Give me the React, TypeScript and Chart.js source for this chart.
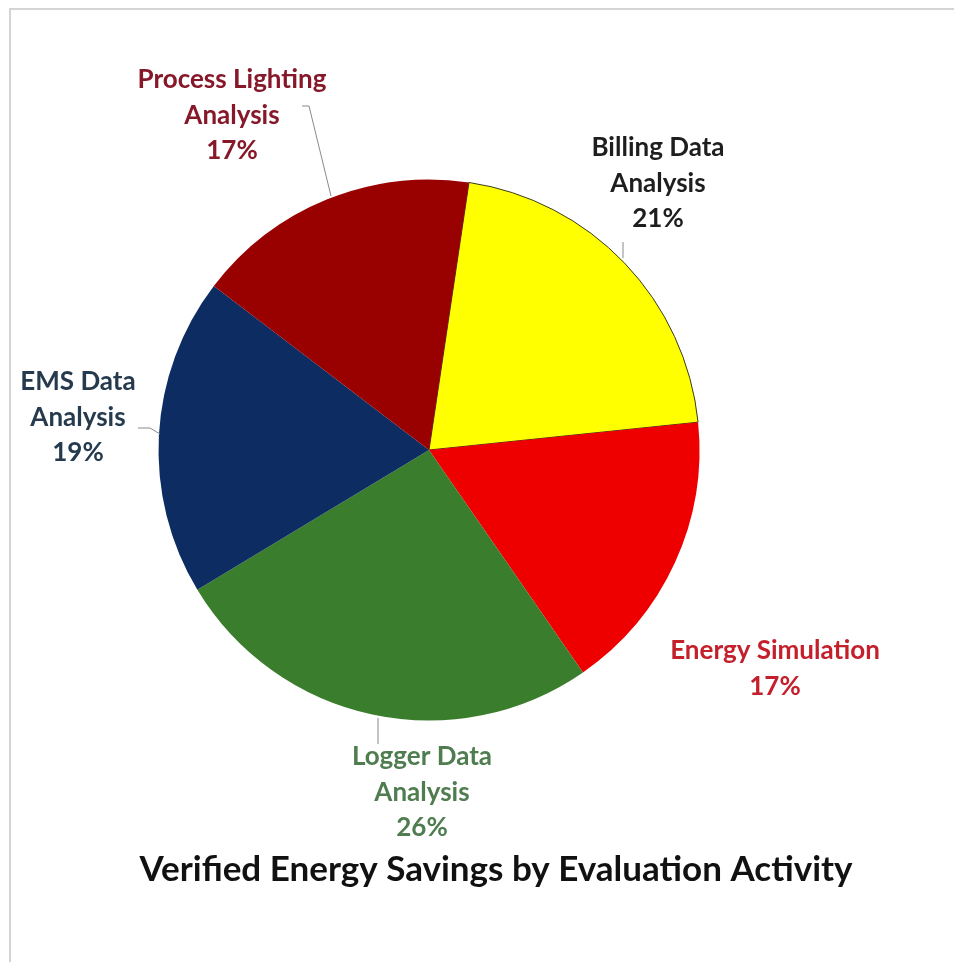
import React, { useEffect, useRef } from "react";
import { Chart, registerables } from "chart.js";

Chart.register(...registerables);

const categories = [
  "Billing Data Analysis",
  "Energy Simulation",
  "Logger Data Analysis",
  "EMS Data Analysis",
  "Process Lighting Analysis",
];
const values = [21, 17, 26, 19, 17];
const sliceColors = ["#FFFF00", "#EE0000", "#3A7D2C", "#0C2C62", "#990000"];
const labelLines = [
  ["Billing Data", "Analysis", "21%"],
  ["Energy Simulation", "17%"],
  ["Logger Data", "Analysis", "26%"],
  ["EMS Data", "Analysis", "19%"],
  ["Process Lighting", "Analysis", "17%"],
];
const labelColors = ["#1E1E1E", "#C4202C", "#4F7D4F", "#263A4E", "#86182A"];
const titleText = "Verified Energy Savings by Evaluation Activity";

const FONT = "Lato, 'Open Sans', sans-serif";

export default function App() {
  const ref = useRef<HTMLCanvasElement | null>(null);
  useEffect(() => {
    document.body.style.margin = "0";
    const canvas = ref.current;
    if (!canvas) return;
    const labelPos = [
      { x: 658, y: 148 },
      { x: 775, y: 651 },
      { x: 422, y: 757 },
      { x: 78, y: 382 },
      { x: 232, y: 80 },
    ];
    const leaders: number[][][] = [
      [[623, 242], [623, 258]],
      [],
      [[378, 718], [378, 744]],
      [[138, 428], [150, 428], [160, 434]],
      [[302, 106], [309, 106], [331, 196]],
    ];
    const overlay = {
      id: "overlay",
      beforeDraw(chart: any) {
        const ctx = chart.ctx;
        ctx.save();
        ctx.fillStyle = "#ffffff";
        ctx.fillRect(0, 0, chart.width, chart.height);
        ctx.strokeStyle = "#d4d4d4";
        ctx.lineWidth = 2;
        ctx.beginPath();
        ctx.moveTo(10, chart.height);
        ctx.lineTo(10, 9);
        ctx.lineTo(chart.width, 9);
        ctx.stroke();
        ctx.restore();
      },
      afterDraw(chart: any) {
        const ctx = chart.ctx;
        ctx.save();
        ctx.textAlign = "center";
        ctx.textBaseline = "middle";
        ctx.font = `bold 26px ${FONT}`;
        labelLines.forEach((lines, i) => {
          ctx.fillStyle = labelColors[i];
          const p = labelPos[i];
          lines.forEach((t, j) => ctx.fillText(t, p.x, p.y + j * 35.5));
        });
        ctx.strokeStyle = "#8a8a8a";
        ctx.lineWidth = 1;
        leaders.forEach((pts) => {
          if (!pts.length) return;
          ctx.beginPath();
          pts.forEach((pt, k) => (k ? ctx.lineTo(pt[0], pt[1]) : ctx.moveTo(pt[0], pt[1])));
          ctx.stroke();
        });
        ctx.fillStyle = "#111111";
        ctx.font = `bold 35px ${FONT}`;
        ctx.fillText(titleText, 496, 870);
        ctx.restore();
      },
    };
    const chart = new Chart(canvas, {
      type: "pie",
      data: {
        labels: categories,
        datasets: [
          {
            data: values,
            backgroundColor: sliceColors,
            borderColor: ["#3a3a20", "rgba(0,0,0,0)", "rgba(0,0,0,0)", "rgba(0,0,0,0)", "rgba(0,0,0,0)"],
            borderWidth: [1, 0, 0, 0, 0],
          },
        ],
      },
      options: {
        responsive: false,
        animation: false,
        rotation: 8.5,
        layout: { padding: { left: 158, right: 254, top: 179, bottom: 241 } },
        plugins: { legend: { display: false }, tooltip: { enabled: false }, title: { display: false } },
      },
      plugins: [overlay],
    });
    return () => chart.destroy();
  }, []);
  return <canvas ref={ref} width={954} height={962} style={{ display: "block", width: 954, height: 962 }} />;
}
